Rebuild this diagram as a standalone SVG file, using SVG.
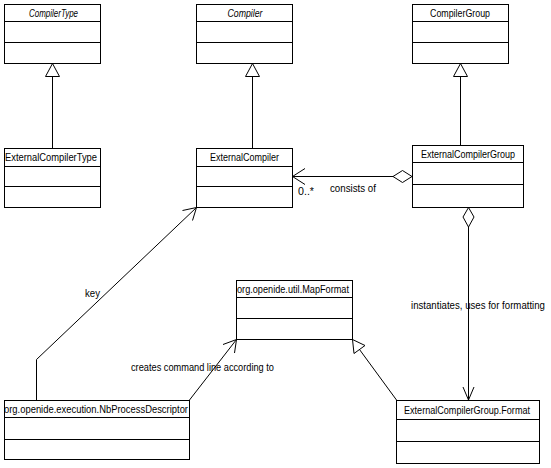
<svg xmlns="http://www.w3.org/2000/svg" width="551" height="468" viewBox="0 0 551 468">
<style>
.box{fill:#fff;stroke:#000;stroke-width:1}
.div{stroke:#000;stroke-width:1}
.ln{fill:none;stroke:#000;stroke-width:1}
.hd{fill:#fff;stroke:#000;stroke-width:1}
text{font-family:"Liberation Sans",Arial,sans-serif;font-size:10px;fill:#000}
.t{text-anchor:middle}
.it{font-style:italic}
</style>
<rect width="551" height="468" fill="#fff"/>
<g id="connectors">
  <!-- generalizations -->
  <line class="ln" x1="52.5" y1="76" x2="52.5" y2="148"/>
  <polygon class="hd" points="52.5,63.5 45.5,76.5 59.5,76.5"/>
  <line class="ln" x1="252.5" y1="76" x2="252.5" y2="148"/>
  <polygon class="hd" points="252.5,63.5 245.5,76.5 259.5,76.5"/>
  <line class="ln" x1="460.5" y1="76" x2="460.5" y2="145"/>
  <polygon class="hd" points="460.5,63.5 453.5,76.5 467.5,76.5"/>
  <!-- consists of -->
  <line class="ln" x1="292.5" y1="176.5" x2="393" y2="176.5"/>
  <polygon class="hd" points="393,176.5 402.5,170.5 412,176.5 402.5,182.5"/>
  <polyline class="ln" points="305,168.5 292.5,176.5 305,184.5"/>
  <!-- key -->
  <polyline class="ln" points="36.5,400 36.5,359.5 196.5,207.5"/>
  <polyline class="ln" points="182.5,210.5 196.5,207.5 192.5,220.5"/>
  <!-- creates command line -->
  <line class="ln" x1="189.5" y1="400" x2="236.5" y2="339.5"/>
  <polyline class="ln" points="223,344.5 236.5,339.5 234.5,353"/>
  <!-- instantiates -->
  <line class="ln" x1="468.5" y1="227" x2="468.5" y2="400"/>
  <polygon class="hd" points="468.5,207.5 474,217 468.5,227 463,217"/>
  <polyline class="ln" points="463,387 468.5,400 474,387"/>
  <!-- Format generalization -->
  <line class="ln" x1="396.5" y1="400" x2="359.5" y2="349.5"/>
  <polygon class="hd" points="352.5,339.5 365,345.5 354,353.5"/>
  <!-- labels -->
  <text x="85" y="297" textLength="15" lengthAdjust="spacingAndGlyphs">key</text>
  <text x="131" y="371" textLength="143" lengthAdjust="spacingAndGlyphs">creates command line according to</text>
  <text x="411" y="309" textLength="134" lengthAdjust="spacingAndGlyphs">instantiates, uses for formatting</text>
  <text x="330" y="192" textLength="46" lengthAdjust="spacingAndGlyphs">consists of</text>
  <text x="298" y="195" textLength="16" lengthAdjust="spacingAndGlyphs">0..*</text>
</g>
<g id="CompilerType">
  <rect class="box" x="4.5" y="4.5" width="96" height="59"/>
  <line class="div" x1="4.5" y1="21.5" x2="100.5" y2="21.5"/>
  <line class="div" x1="4.5" y1="42.5" x2="100.5" y2="42.5"/>
  <text class="t it" x="53.5" y="17" textLength="49" lengthAdjust="spacingAndGlyphs">CompilerType</text>
</g>
<g id="Compiler">
  <rect class="box" x="196.5" y="4.5" width="96" height="59"/>
  <line class="div" x1="196.5" y1="21.5" x2="292.5" y2="21.5"/>
  <line class="div" x1="196.5" y1="42.5" x2="292.5" y2="42.5"/>
  <text class="t it" x="245" y="17" textLength="35" lengthAdjust="spacingAndGlyphs">Compiler</text>
</g>
<g id="CompilerGroup">
  <rect class="box" x="412.5" y="4.5" width="96" height="59"/>
  <line class="div" x1="412.5" y1="21.5" x2="508.5" y2="21.5"/>
  <line class="div" x1="412.5" y1="42.5" x2="508.5" y2="42.5"/>
  <text class="t" x="460" y="17" textLength="60" lengthAdjust="spacingAndGlyphs">CompilerGroup</text>
</g>
<g id="ExternalCompilerType">
  <rect class="box" x="4.5" y="148.5" width="96" height="59"/>
  <line class="div" x1="4.5" y1="166.5" x2="100.5" y2="166.5"/>
  <line class="div" x1="4.5" y1="186.5" x2="100.5" y2="186.5"/>
  <text class="t" x="51" y="161" textLength="92" lengthAdjust="spacingAndGlyphs">ExternalCompilerType</text>
</g>
<g id="ExternalCompiler">
  <rect class="box" x="196.5" y="148.5" width="96" height="59"/>
  <line class="div" x1="196.5" y1="166.5" x2="292.5" y2="166.5"/>
  <line class="div" x1="196.5" y1="186.5" x2="292.5" y2="186.5"/>
  <text class="t" x="244.5" y="161" textLength="69" lengthAdjust="spacingAndGlyphs">ExternalCompiler</text>
</g>
<g id="ExternalCompilerGroup">
  <rect class="box" x="412.5" y="145.5" width="111" height="62"/>
  <line class="div" x1="412.5" y1="162.5" x2="523.5" y2="162.5"/>
  <line class="div" x1="412.5" y1="184.5" x2="523.5" y2="184.5"/>
  <text class="t" x="468" y="158" textLength="94" lengthAdjust="spacingAndGlyphs">ExternalCompilerGroup</text>
</g>
<g id="MapFormat">
  <rect class="box" x="236.5" y="280.5" width="116" height="59"/>
  <line class="div" x1="236.5" y1="297.5" x2="352.5" y2="297.5"/>
  <line class="div" x1="236.5" y1="318.5" x2="352.5" y2="318.5"/>
  <text class="t" x="293" y="293" textLength="112" lengthAdjust="spacingAndGlyphs">org.openide.util.MapFormat</text>
</g>
<g id="NbProcessDescriptor">
  <rect class="box" x="4.5" y="400.5" width="185" height="59"/>
  <line class="div" x1="4.5" y1="417.5" x2="189.5" y2="417.5"/>
  <line class="div" x1="4.5" y1="439.5" x2="189.5" y2="439.5"/>
  <text class="t" x="96" y="413" textLength="184" lengthAdjust="spacingAndGlyphs">org.openide.execution.NbProcessDescriptor</text>
</g>
<g id="ExternalCompilerGroupFormat">
  <rect class="box" x="396.5" y="400.5" width="143" height="63"/>
  <line class="div" x1="396.5" y1="419.5" x2="539.5" y2="419.5"/>
  <line class="div" x1="396.5" y1="441.5" x2="539.5" y2="441.5"/>
  <text class="t" x="467" y="414" textLength="126" lengthAdjust="spacingAndGlyphs">ExternalCompilerGroup.Format</text>
</g>
</svg>
